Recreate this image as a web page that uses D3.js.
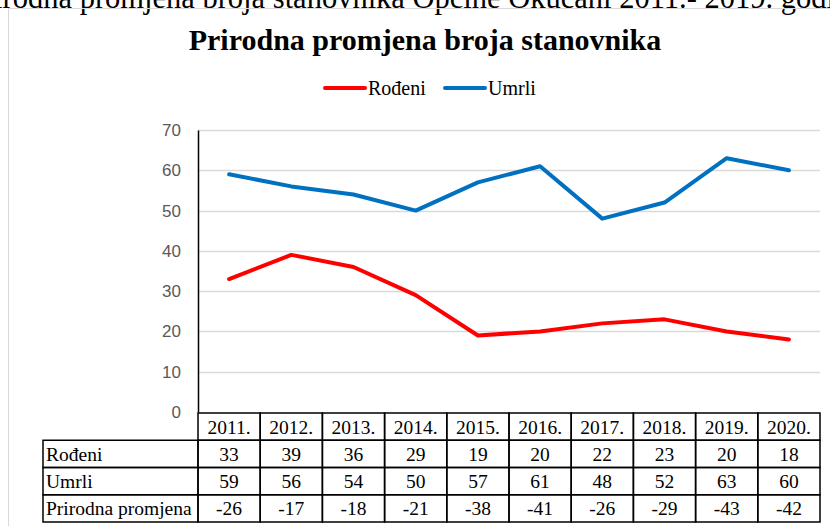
<!DOCTYPE html>
<html>
<head>
<meta charset="utf-8">
<script src="https://cdn.jsdelivr.net/npm/d3@7"></script>
<style>
  body { margin: 0; background: #fff; }
  svg { display: block; }
  .serif { font-family: 'Liberation Serif', 'DejaVu Serif', serif; }
  .sans { font-family: 'Liberation Sans', Arial, sans-serif; }
</style>
</head>
<body>
<svg id="chart" width="830" height="526"></svg>
<script>
// data
const years = ['2011.', '2012.', '2013.', '2014.', '2015.', '2016.', '2017.', '2018.', '2019.', '2020.'];
const rodeni = [33, 39, 36, 29, 19, 20, 22, 23, 20, 18];
const umrli = [59, 56, 54, 50, 57, 61, 48, 52, 63, 60];
const promjena = [-26, -17, -18, -21, -38, -41, -26, -29, -43, -42];
const yTicks = [0, 10, 20, 30, 40, 50, 60, 70];

const series = [
    { name: 'Rođeni', values: rodeni, color: '#ff0000' },
    { name: 'Umrli', values: umrli, color: '#0070c0' }
];
const tableRows = [
    { label: 'Rođeni', values: rodeni },
    { label: 'Umrli', values: umrli },
    { label: 'Prirodna promjena', values: promjena }
];

const svg = d3.select('#chart');

// caption of the page, cut off at the top
svg.append('text')
    .attr('class', 'serif')
    .attr('x', -33)
    .attr('y', 8)
    .style('font-size', '30.5px')
    .attr('fill', '#000')
    .text('Prirodna promjena broja stanovnika Općine Okučani 2011.- 2019. godine');

// chart frame
svg.append('rect')
    .attr('x', 8.5)
    .attr('y', 8.5)
    .attr('width', 900)
    .attr('height', 600)
    .attr('fill', 'none')
    .attr('stroke', '#d9d9d9');

// title
svg.append('text')
    .attr('class', 'serif')
    .attr('x', 425)
    .attr('y', 50)
    .attr('text-anchor', 'middle')
    .style('font-size', '30px')
    .style('font-weight', 'bold')
    .text('Prirodna promjena broja stanovnika');

// scales
const x = d3.scaleBand()
    .domain(years)
    .range([198, 820])
    .padding(0);

const y = d3.scaleLinear()
    .domain([0, 70])
    .range([412, 130]);

// gridlines
svg.append('g')
    .selectAll('line')
    .data(yTicks.filter(d => d > 0))
    .enter()
    .append('line')
    .attr('x1', 198)
    .attr('x2', 820)
    .attr('y1', d => Math.round(y(d)) + 0.5)
    .attr('y2', d => Math.round(y(d)) + 0.5)
    .attr('stroke', '#d9d9d9')
    .attr('stroke-width', 1.3);

// y axis
const yAxis = d3.axisLeft(y)
    .tickValues(yTicks)
    .tickSize(0)
    .tickPadding(17);

const yg = svg.append('g')
    .attr('transform', 'translate(198,0)')
    .call(yAxis);
yg.attr('font-family', null).attr('font-size', null);
yg.select('.domain').attr('stroke', '#000').attr('stroke-width', 1.5);
yg.selectAll('text')
    .attr('class', 'sans')
    .style('font-size', '17px')
    .attr('fill', '#595959');

// lines
const line = d3.line()
    .x((d, i) => x(years[i]) + x.bandwidth() / 2)
    .y(d => y(d));

svg.append('g')
    .selectAll('path')
    .data(series)
    .enter()
    .append('path')
    .attr('d', d => line(d.values))
    .attr('fill', 'none')
    .attr('stroke', d => d.color)
    .attr('stroke-width', 4)
    .attr('stroke-linejoin', 'round')
    .attr('stroke-linecap', 'round');

// legend
const legendX = [325, 445];
const legend = svg.append('g')
    .selectAll('g')
    .data(series)
    .enter()
    .append('g')
    .attr('transform', (d, i) => `translate(${legendX[i]}, 88)`);

legend.append('line')
    .attr('x1', 0)
    .attr('x2', 40)
    .attr('stroke', d => d.color)
    .attr('stroke-width', 4)
    .attr('stroke-linecap', 'round');

legend.append('text')
    .attr('class', 'serif')
    .attr('x', 43)
    .attr('y', 7)
    .style('font-size', '20px')
    .text(d => d.name);

// data table
const rowY = d3.scaleBand()
    .domain(['head'].concat(tableRows.map(d => d.label)))
    .range([413, 522]);
const labelLeft = 43;

const table = svg.append('g');
const cellFont = sel => sel.attr('class', 'serif').style('font-size', '19.5px');

// header row
table.selectAll('.head')
    .data(years)
    .enter()
    .append('rect')
    .attr('x', d => x(d))
    .attr('y', rowY('head'))
    .attr('width', x.bandwidth())
    .attr('height', rowY.bandwidth())
    .attr('fill', 'none')
    .attr('stroke', '#000')
    .attr('stroke-width', 1.5);

table.selectAll('.headText')
    .data(years)
    .enter()
    .append('text')
    .call(cellFont)
    .attr('x', d => x(d) + x.bandwidth() / 2)
    .attr('y', rowY('head') + rowY.bandwidth() / 2 + 7)
    .attr('text-anchor', 'middle')
    .text(d => d);

// body rows
const rows = table.selectAll('.row')
    .data(tableRows)
    .enter()
    .append('g')
    .attr('transform', d => `translate(0, ${rowY(d.label)})`);

rows.append('rect')
    .attr('x', labelLeft)
    .attr('y', 0)
    .attr('width', x.range()[0] - labelLeft)
    .attr('height', rowY.bandwidth())
    .attr('fill', 'none')
    .attr('stroke', '#000')
    .attr('stroke-width', 1.5);

rows.append('text')
    .call(cellFont)
    .attr('x', labelLeft + 3)
    .attr('y', rowY.bandwidth() / 2 + 7)
    .text(d => d.label);

rows.selectAll('.cell')
    .data(d => d.values)
    .enter()
    .append('rect')
    .attr('x', (v, i) => x(years[i]))
    .attr('y', 0)
    .attr('width', x.bandwidth())
    .attr('height', rowY.bandwidth())
    .attr('fill', 'none')
    .attr('stroke', '#000')
    .attr('stroke-width', 1.5);

rows.selectAll('.val')
    .data(d => d.values)
    .enter()
    .append('text')
    .call(cellFont)
    .attr('x', (v, i) => x(years[i]) + x.bandwidth() / 2)
    .attr('y', rowY.bandwidth() / 2 + 7)
    .attr('text-anchor', 'middle')
    .text(v => v);
</script>
</body>
</html>
